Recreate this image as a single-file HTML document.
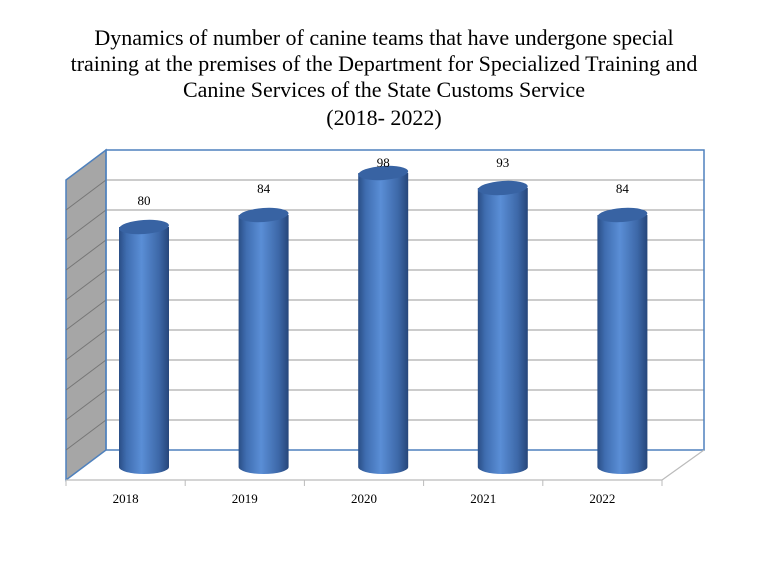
<!DOCTYPE html>
<html><head><meta charset="utf-8"><style>
body{margin:0;background:#fff;width:768px;height:576px;overflow:hidden}
svg{display:block}
</style></head><body>
<svg width="768" height="576" viewBox="0 0 768 576">
<defs>
<linearGradient id="cyl" x1="0" x2="1" y1="0" y2="0">
<stop offset="0" stop-color="#2a4e86"/><stop offset="0.15" stop-color="#3f6db0"/>
<stop offset="0.45" stop-color="#5a8ed6"/><stop offset="0.8" stop-color="#3d68a8"/>
<stop offset="1" stop-color="#26467a"/></linearGradient>
</defs>
<g font-family="'Liberation Serif',serif" font-size="22" text-anchor="middle" fill="#000">
<text x="384" y="45">Dynamics of number of canine teams that have undergone special</text>
<text x="384" y="71">training at the premises of the Department for Specialized Training and</text>
<text x="384" y="97">Canine Services of the State Customs Service</text>
<text x="384" y="125">(2018- 2022)</text>
</g>
<polygon points="66,180 106,150 106,450 66,480" fill="#a6a6a6" stroke="#4f81bd" stroke-width="1.5"/>
<g id="grid"></g>
<rect x="106" y="150" width="598" height="300" fill="none" stroke="#4f81bd" stroke-width="1.5"/>
<polyline points="66,480 662,480 704,450" fill="none" stroke="#bbb" stroke-width="1.2"/>
<g id="ticks"></g>
<g id="bars"></g>
</svg>
<script>
const categories=["2018","2019","2020","2021","2022"];
const values=[80,84,98,93,84];
const yTicks=[0,10,20,30,40,50,60,70,80,90,100];
const NS="http://www.w3.org/2000/svg";
function y(v){return 450-v*3;}      // back wall scale
function yb(v){return 467-v*3;}     // bar depth scale
function xc(i){return 144+i*119.6;}
function mk(t,a,p){const e=document.createElementNS(NS,t);for(const k in a)e.setAttribute(k,a[k]);p.appendChild(e);return e;}
const grid=document.getElementById('grid');
yTicks.forEach(v=>{if(v===0||v===100)return;
 const l=mk('line',{x1:106,x2:704,y1:y(v),y2:y(v),stroke:'#9a9a9a','stroke-width':1},grid);
 
 
 const d=mk('line',{x1:66,y1:y(v)+30,x2:106,y2:y(v),stroke:'#777','stroke-width':1},grid);
 
 
});
const ticks=document.getElementById('ticks');
for(let i=0;i<=categories.length;i++){const x=66+i*119.2;
 const t=mk('line',{x1:x,x2:x,y1:480,y2:486,stroke:'#bbb'},ticks);
 
 }
categories.forEach((c,i)=>{const t=mk('text',{x:125.6+i*119.2,y:503,'font-family':"'Liberation Serif',serif",'font-size':13,'text-anchor':'middle'},ticks);
 t.textContent=c;
 
 });
const bars=document.getElementById('bars');
values.forEach((v,i)=>{const cx=xc(i),w=25,top=yb(v),bot=yb(0);
 const g=mk('g',{},bars);
 
 
 mk('path',{d:`M${cx-w},${top} L${cx-w},${bot} A${w},7 0 0 0 ${cx+w},${bot} L${cx+w},${top} Z`,fill:'url(#cyl)'},g);
 mk('ellipse',{cx:cx,cy:top,rx:w,ry:7,fill:'#3863a3',transform:`rotate(-4 ${cx} ${top})`},g);
 const t=mk('text',{x:cx,y:Math.max(top-22,167),'font-family':"'Liberation Serif',serif",'font-size':13,'text-anchor':'middle'},g);
 t.textContent=v;
 
 
});
</script>
</body></html>
